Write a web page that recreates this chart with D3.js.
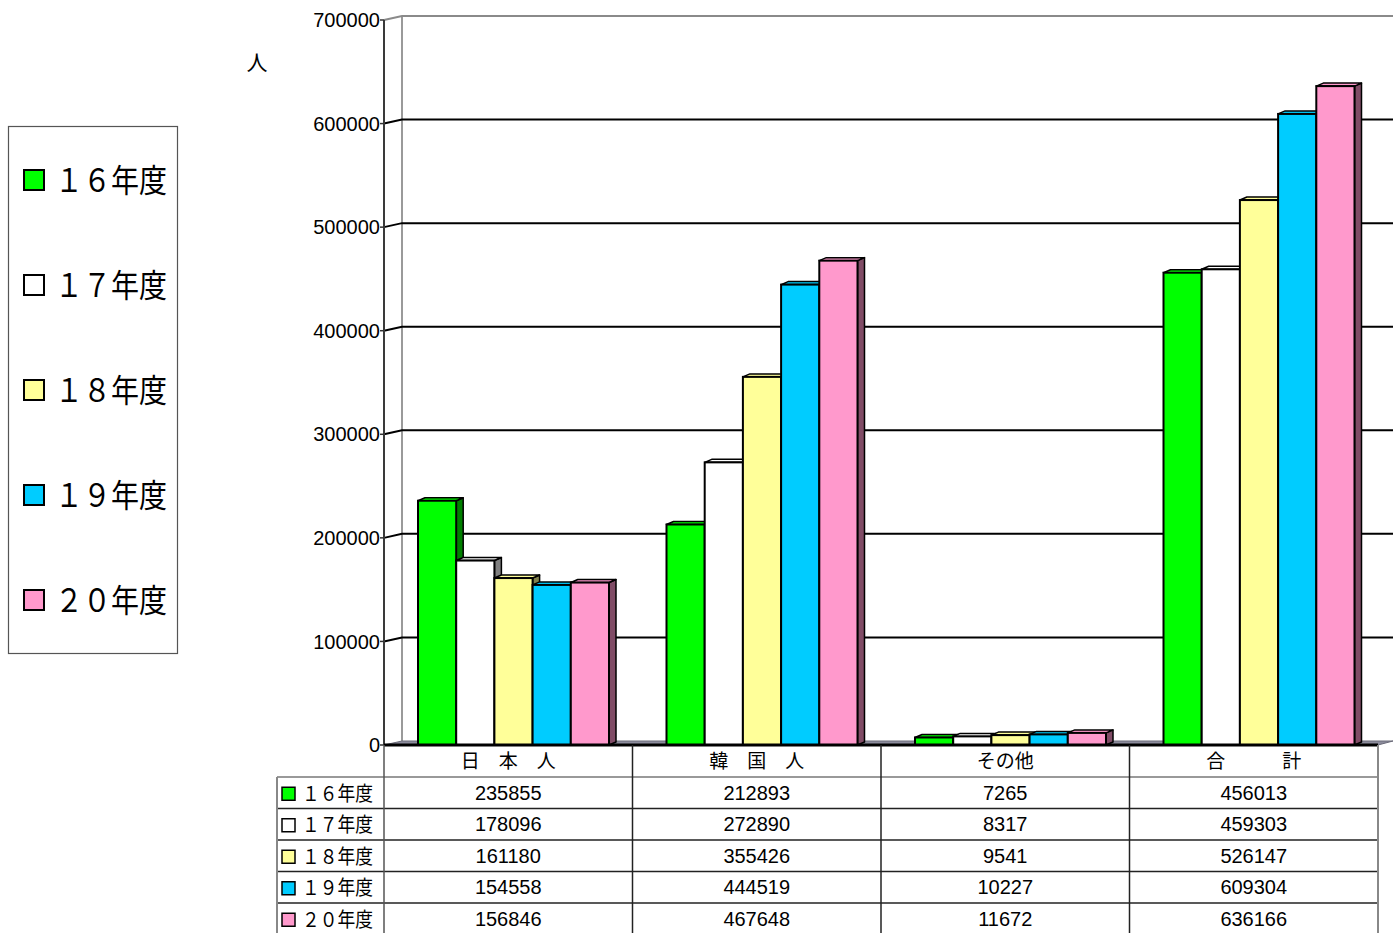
<!DOCTYPE html>
<html><head><meta charset="utf-8">
<script src="https://cdn.jsdelivr.net/npm/d3@7/dist/d3.min.js"></script>
<style>body{margin:0;background:#fff}svg{display:block}</style>
</head><body>
<svg id="chart" width="1393" height="933"></svg>
<script>
const categories = ["日　本　人", "韓　国　人", "その他", "合　　　計"];
const seriesNames = ["１６年度", "１７年度", "１８年度", "１９年度", "２０年度"];
const v16 = [235855, 212893, 7265, 456013];
const v17 = [178096, 272890, 8317, 459303];
const v18 = [161180, 355426, 9541, 526147];
const v19 = [154558, 444519, 10227, 609304];
const v20 = [156846, 467648, 11672, 636166];
const yTicks = [0, 100000, 200000, 300000, 400000, 500000, 600000, 700000];
const colors = ["#00ff00", "#ffffff", "#ffff99", "#00ccff", "#ff99cc"];
const sideColors = ["#008000", "#808080", "#80804c", "#006680", "#804c66"];

const seriesValues = [v16, v17, v18, v19, v20];
const svg = d3.select("#chart");
const font = "'Liberation Sans', Arial, sans-serif";
const jfont = "'Noto Sans CJK JP', sans-serif";

const X0 = 384, X1 = 1378, Y0 = 745, YT = 20;
const DX = 18, DY = -4;   // wall depth
const bdx = 7, bdy = -3;  // bar depth
const y = d3.scaleLinear().domain([0, 700000]).range([Y0, YT]);
const x = d3.scaleBand().domain(categories).range([X0, X1]);
const xs = d3.scaleBand().domain(seriesNames).range([34, 34 + 191]);

// walls
const g = svg.append("g");
g.append("line").attr("x1", X0 + DX).attr("x2", X0 + DX).attr("y1", YT + DY).attr("y2", Y0 + DY)
  .attr("stroke", "#9a9a9a").attr("stroke-width", 2);
g.append("path").attr("d", `M${X0},${YT} L${X0 + DX},${YT + DY} L1393,${YT + DY}`)
  .attr("fill", "none").attr("stroke", "#8a8a8a").attr("stroke-width", 2);
// gridlines
yTicks.filter(t => t > 0 && t < 700000).forEach(t => {
  const yy = y(t);
  g.append("path").attr("d", `M${X0},${yy} L${X0 + DX},${yy + DY} L1393,${yy + DY}`)
    .attr("fill", "none").attr("stroke", "#000").attr("stroke-width", 2);
});
// floor
g.append("polygon").attr("points", `${X0},${Y0} ${X0 + DX},${Y0 + DY} 1393,${Y0 + DY} ${X1},${Y0}`)
  .attr("fill", "#8c8c9c").attr("stroke", "#6a6a78").attr("stroke-width", 1);
// left axis line
g.append("line").attr("x1", X0).attr("x2", X0).attr("y1", YT).attr("y2", Y0)
  .attr("stroke", "#3a3a3a").attr("stroke-width", 2);
// ticks & labels
yTicks.forEach(t => {
  g.append("line").attr("x1", X0 - 4).attr("x2", X0).attr("y1", y(t)).attr("y2", y(t))
    .attr("stroke", "#333").attr("stroke-width", 1.5);
  g.append("text").attr("x", X0 - 4).attr("y", y(t)).attr("dy", "0.36em")
    .attr("text-anchor", "end").attr("font-family", font).attr("font-size", 20).attr("fill", "#000")
    .text(t);
});
g.append("text").attr("x", 257).attr("y", 62).attr("dy", "0.36em").attr("text-anchor", "middle")
  .attr("font-family", jfont).attr("font-size", 21).text("人");

// bars
const bars = svg.append("g");
categories.forEach((c, ci) => {
  seriesNames.forEach((s, si) => {
    const v = seriesValues[si][ci];
    const bx = x(c) + xs(s), bw = xs.bandwidth();
    const top = y(v), bot = Y0;
    bars.append("polygon")
      .attr("points", `${bx + bw},${top} ${bx + bw + bdx},${top + bdy} ${bx + bw + bdx},${bot + bdy} ${bx + bw},${bot}`)
      .attr("fill", sideColors[si]).attr("stroke", "#000").attr("stroke-width", 1.5).attr("stroke-linejoin", "round");
    bars.append("polygon")
      .attr("points", `${bx},${top} ${bx + bdx},${top + bdy} ${bx + bw + bdx},${top + bdy} ${bx + bw},${top}`)
      .attr("fill", colors[si]).attr("stroke", "#000").attr("stroke-width", 1.5).attr("stroke-linejoin", "round");
    bars.append("rect").attr("x", bx).attr("y", top).attr("width", bw).attr("height", bot - top)
      .attr("fill", colors[si]).attr("stroke", "#000").attr("stroke-width", 2);
  });
});
svg.append("line").attr("x1", X0).attr("x2", X1).attr("y1", Y0).attr("y2", Y0)
  .attr("stroke", "#000").attr("stroke-width", 3);

// data table
const T = svg.append("g");
const rowTop = 777, rowH = 31.5, TL = 277;
const rows = d3.scaleBand().domain(seriesNames).range([rowTop, rowTop + rowH * 5]);
[rowTop, ...seriesNames.map(s => rows(s) + rowH)].forEach((yy, i) => {
  T.append("line").attr("x1", TL).attr("x2", X1).attr("y1", yy).attr("y2", yy)
    .attr("stroke", i === 0 ? "#777" : "#222").attr("stroke-width", 1.5);
});
categories.forEach(c => {
  T.append("line").attr("x1", x(c)).attr("x2", x(c)).attr("y1", Y0).attr("y2", 933)
    .attr("stroke", x(c) === X0 ? "#555" : "#222").attr("stroke-width", 1.5);
});
T.append("line").attr("x1", X1).attr("x2", X1).attr("y1", Y0).attr("y2", 933)
  .attr("stroke", "#888").attr("stroke-width", 2);
T.append("line").attr("x1", TL).attr("x2", TL).attr("y1", rowTop).attr("y2", 933)
  .attr("stroke", "#888").attr("stroke-width", 2);
categories.forEach(c => {
  T.append("text").attr("x", x(c) + x.bandwidth() / 2).attr("y", Y0 + 16).attr("dy", "0.36em")
    .attr("text-anchor", "middle").attr("font-family", jfont).attr("font-size", 19).text(c);
});
seriesNames.forEach((s, si) => {
  const cy = rows(s) + rowH / 2 + 1;
  T.append("rect").attr("x", 282).attr("y", cy - 6.5).attr("width", 13).attr("height", 13)
    .attr("fill", colors[si]).attr("stroke", "#000").attr("stroke-width", 1.5);
  T.append("text").attr("x", 302).attr("y", cy).attr("dy", "0.36em")
    .attr("font-family", jfont).attr("font-size", 20).attr("textLength", 71).attr("lengthAdjust", "spacingAndGlyphs").text(s);
  categories.forEach((c, ci) => {
    T.append("text").attr("x", x(c) + x.bandwidth() / 2).attr("y", cy - 1).attr("dy", "0.36em")
      .attr("text-anchor", "middle").attr("font-family", font).attr("font-size", 20).text(seriesValues[si][ci]);
  });
});

// legend
const L = svg.append("g");
L.append("rect").attr("x", 8.5).attr("y", 126.5).attr("width", 169).attr("height", 527)
  .attr("fill", "#fff").attr("stroke", "#555").attr("stroke-width", 1.2);
const ly = d3.scalePoint().domain(seriesNames).range([180, 600]);
seriesNames.forEach((s, si) => {
  L.append("rect").attr("x", 24).attr("y", ly(s) - 10).attr("width", 20).attr("height", 20)
    .attr("fill", colors[si]).attr("stroke", "#000").attr("stroke-width", 2);
  L.append("text").attr("x", 55).attr("y", ly(s)).attr("dy", "0.36em")
    .attr("font-family", jfont).attr("font-size", 32).attr("textLength", 112).attr("lengthAdjust", "spacingAndGlyphs").text(s);
});
</script>
</body></html>
